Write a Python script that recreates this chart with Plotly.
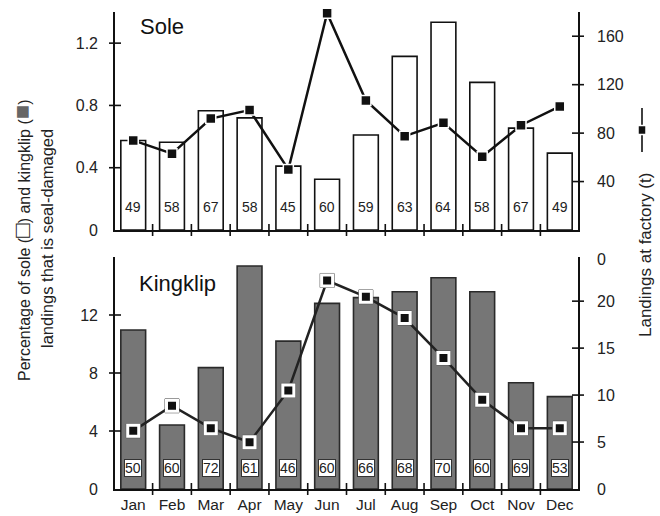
import plotly.graph_objects as go

months = ["Jan", "Feb", "Mar", "Apr", "May", "Jun", "Jul", "Aug", "Sep", "Oct", "Nov", "Dec"]
idx = list(range(12))

sole_pct = [0.575, 0.564, 0.766, 0.72, 0.41, 0.326, 0.61, 1.115, 1.334, 0.948, 0.654, 0.494]
sole_landings = [74, 63, 92, 99, 50, 179, 107, 77.5, 88.5, 60.5, 86.5, 102]
sole_n = [49, 58, 67, 58, 45, 60, 59, 63, 64, 58, 67, 49]

kk_pct = [10.97, 4.41, 8.37, 15.38, 10.2, 12.8, 13.2, 13.6, 14.57, 13.6, 7.33, 6.37]
kk_landings = [6.19, 8.86, 6.48, 4.98, 10.5, 22.2, 20.46, 18.2, 13.95, 9.5, 6.48, 6.48]
kk_n = [50, 60, 72, 61, 46, 60, 66, 68, 70, 60, 69, 53]

top_left_ticks = [0, 0.4, 0.8, 1.2]
top_right_ticks = [40, 80, 120, 160]
bot_left_ticks = [0, 4, 8, 12]
bot_right_ticks = [0, 5, 10, 15, 20, 24.4]
bot_right_text = ["0", "5", "10", "15", "20", "0"]

FONT = "Liberation Sans, Arial, sans-serif"
XR = [-0.47, 11.47]
xdom = [115 / 660, 578 / 660]
top_dom = [1 - 230 / 516, 1 - 12 / 516]
bot_dom = [1 - 489 / 516, 1 - 257 / 516]

fig = go.Figure()

# Sole (top)
fig.add_trace(go.Bar(x=idx, y=sole_pct, xaxis="x2", yaxis="y3", width=0.64,
                     marker=dict(color="white", line=dict(color="#111", width=1.6)),
                     showlegend=False))
fig.add_trace(go.Scatter(x=idx, y=sole_landings, xaxis="x2", yaxis="y4", mode="lines+markers",
                         line=dict(color="#111", width=2.5),
                         marker=dict(symbol="square", size=10, color="#111", line=dict(color="white", width=1.5)),
                         cliponaxis=False, showlegend=False))

# Kingklip (bottom)
fig.add_trace(go.Bar(x=idx, y=kk_pct, xaxis="x", yaxis="y", width=0.64,
                     marker=dict(color="#767676", line=dict(color="#2a2a2a", width=1.6)),
                     showlegend=False))
fig.add_trace(go.Scatter(x=idx, y=kk_landings, xaxis="x", yaxis="y2", mode="lines",
                         line=dict(color="#222", width=2.5), showlegend=False))
fig.add_trace(go.Scatter(x=idx, y=kk_landings, xaxis="x", yaxis="y2", mode="markers",
                         marker=dict(symbol="square", size=14, color="#555", line=dict(color="#555", width=1)),
                         showlegend=False))
fig.add_trace(go.Scatter(x=idx, y=kk_landings, xaxis="x", yaxis="y2", mode="markers",
                         marker=dict(symbol="square", size=11, color="#111", line=dict(color="white", width=3)),
                         showlegend=False))

annotations = []
for i, n in zip(idx, sole_n):
    annotations.append(dict(x=i, y=0.148, xref="x2", yref="y3", text=str(n), showarrow=False,
                            font=dict(family=FONT, size=14, color="#222")))
for i, n in zip(idx, kk_n):
    annotations.append(dict(x=i, y=1.45, xref="x", yref="y", text=str(n), showarrow=False,
                            bgcolor="white", bordercolor="#333", borderwidth=1, borderpad=0,
                            font=dict(family=FONT, size=14, color="#222")))

annotations += [
    dict(x=138 / 660, y=1 - 27 / 516, xref="paper", yref="paper", xanchor="left", yanchor="middle",
         text="Sole", showarrow=False, font=dict(family=FONT, size=22, color="#111")),
    dict(x=137 / 660, y=1 - 283 / 516, xref="paper", yref="paper", xanchor="left", yanchor="middle",
         text="Kingklip", showarrow=False, font=dict(family=FONT, size=22, color="#111")),
    dict(x=22 / 660, y=1 - 240 / 516, xref="paper", yref="paper", xanchor="center", yanchor="middle",
         textangle=-90, showarrow=False,
         text="Percentage of sole (<span style='font-size:24px'>□</span>) and kingklip "
              "(<span style='font-size:24px;color:#666'>■</span>)",
         font=dict(family=FONT, size=16, color="#222")),
    dict(x=47 / 660, y=1 - 239 / 516, xref="paper", yref="paper", xanchor="center", yanchor="middle",
         textangle=-90, showarrow=False, text="landings that is seal-damaged",
         font=dict(family=FONT, size=16.5, color="#222")),
    dict(x=645 / 660, y=1 - 255 / 516, xref="paper", yref="paper", xanchor="center", yanchor="middle",
         textangle=-90, showarrow=False, text="Landings at factory (t)",
         font=dict(family=FONT, size=17, color="#222")),
]

shapes = []
TL = 6
bounds = [b + 0.5 for b in idx[:-1]]
for xref, yref in (("x", "y domain"), ("x2", "y3 domain")):
    for b in bounds:
        shapes.append(dict(type="line", xref=xref, yref=yref, x0=b, x1=b, ysizemode="pixel",
                           yanchor=0, y0=-TL, y1=TL, line=dict(color="#111", width=1.6)))
for xref, yref, vals, anchor in (("x2 domain", "y3", top_left_ticks[1:], 0),
                                 ("x2 domain", "y4", top_right_ticks, 1),
                                 ("x domain", "y", bot_left_ticks[1:], 0),
                                 ("x domain", "y2", bot_right_ticks[1:5], 1)):
    for v in vals:
        shapes.append(dict(type="line", xref=xref, yref=yref, y0=v, y1=v, xsizemode="pixel",
                           xanchor=anchor, x0=-TL, x1=TL, line=dict(color="#111", width=1.6)))

# legend key for the landings line (vertical line with a square)
kx, ky = 642 / 660, 1 - 130 / 516
shapes.append(dict(type="line", xref="paper", yref="paper", x0=kx, x1=kx, y0=ky - 22 / 516, y1=ky + 22 / 516,
                   line=dict(color="#111", width=1.6)))
shapes.append(dict(type="rect", xref="paper", yref="paper", x0=kx - 4 / 660, x1=kx + 4 / 660,
                   y0=ky - 4.5 / 516, y1=ky + 4.5 / 516, fillcolor="#111", line=dict(color="white", width=1.5)))

axis_common = dict(showgrid=False, zeroline=False, showline=True, linecolor="#111", linewidth=1.6,
                   ticks="", automargin=False, tickfont=dict(family=FONT, size=16, color="#222"))

fig.update_layout(
    width=660, height=516,
    margin=dict(l=0, r=0, t=0, b=0, autoexpand=False),
    paper_bgcolor="white", plot_bgcolor="rgba(0,0,0,0)",
    xaxis=dict(domain=xdom, anchor="y", range=XR, tickmode="array", tickvals=idx, ticktext=months,
               ticklabelstandoff=1, **{**axis_common, "tickfont": dict(family=FONT, size=15.5, color="#222")}),
    xaxis2=dict(domain=xdom, anchor="y3", range=XR, showticklabels=False, **axis_common),
    yaxis=dict(domain=bot_dom, anchor="x", range=[0, 16], tickmode="array", tickvals=bot_left_ticks,
               ticklabelstandoff=12, **axis_common),
    yaxis2=dict(anchor="x", overlaying="y", side="right", range=[0, 24.7], tickmode="array",
                tickvals=bot_right_ticks, ticktext=bot_right_text, ticklabelstandoff=14, **axis_common),
    yaxis3=dict(domain=top_dom, anchor="x2", range=[0, 1.4], tickmode="array", tickvals=top_left_ticks,
                ticktext=["0", "0.4", "0.8", "1.2"], ticklabelstandoff=12, **axis_common),
    yaxis4=dict(anchor="x2", overlaying="y3", side="right", range=[0, 180], tickmode="array",
                tickvals=top_right_ticks, ticklabelstandoff=14, **axis_common),
    annotations=annotations,
    shapes=shapes,
)

fig.write_html("out.html", config={"displayModeBar": False},
               post_script="document.body.style.margin='0';document.body.style.overflow='hidden';")
